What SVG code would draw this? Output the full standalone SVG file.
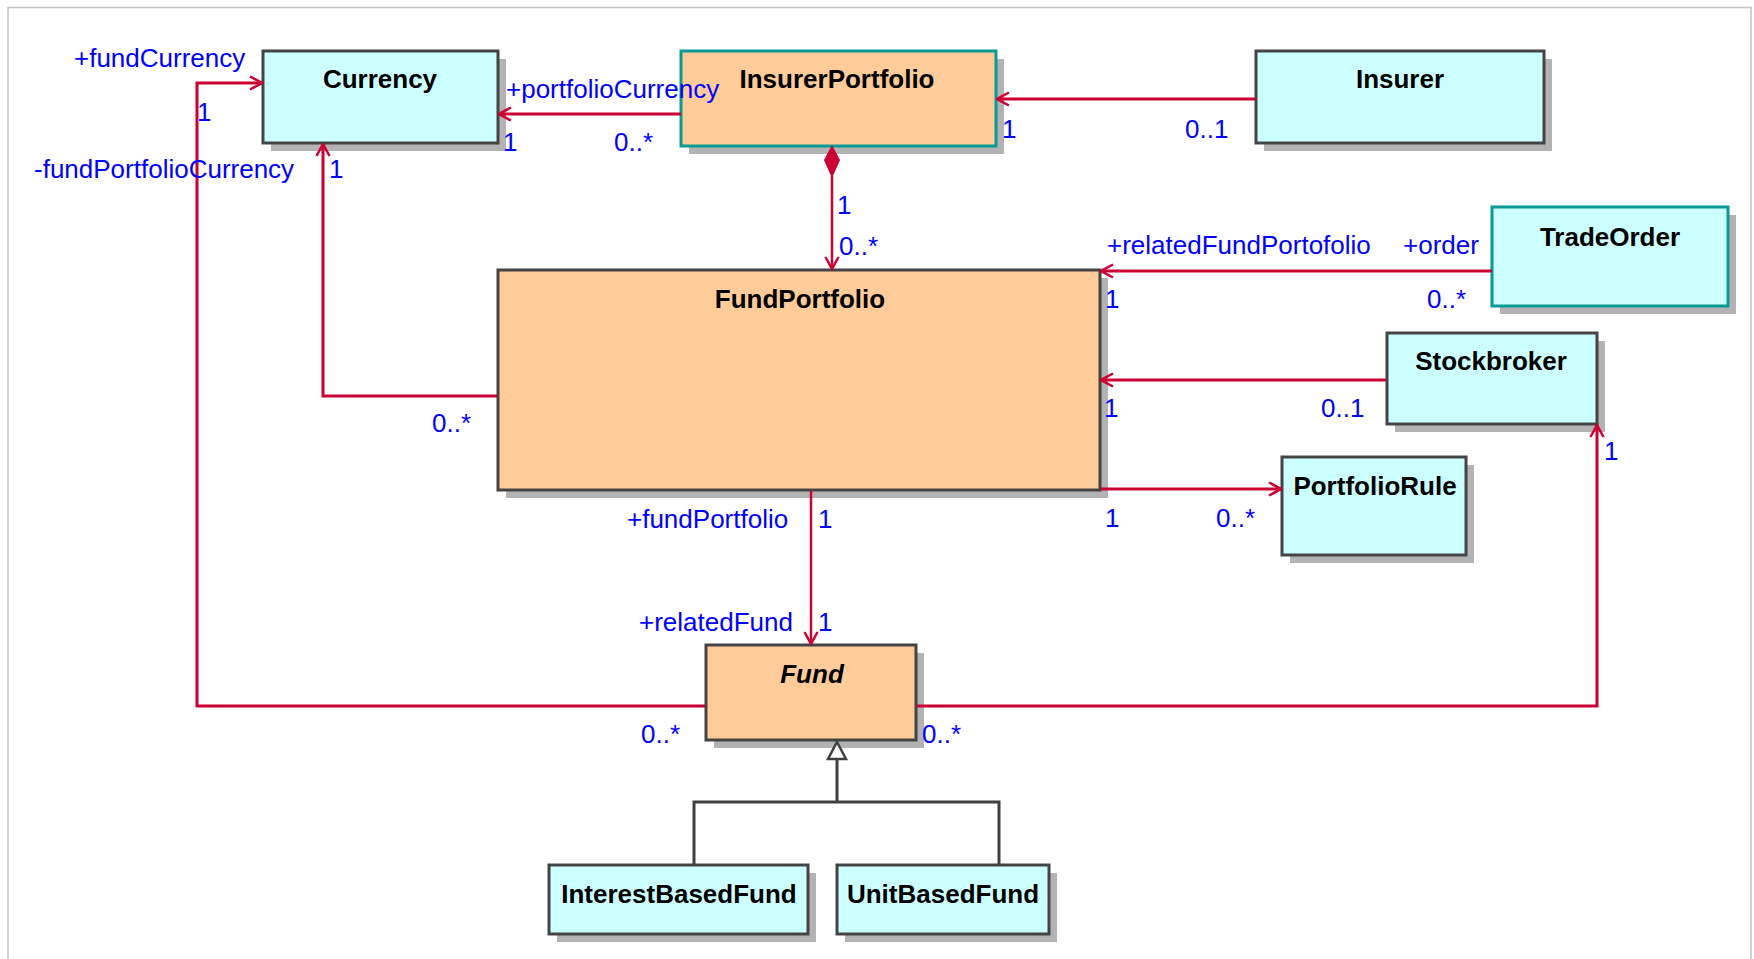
<svg xmlns="http://www.w3.org/2000/svg" width="1754" height="959" viewBox="0 0 1754 959">
<defs>
<style>
.frame{fill:#ffffff;stroke:#c4c4c4;stroke-width:1.5}
.sh{fill:#b3b3b3}
.cy{fill:#ccffff;stroke:#444444;stroke-width:3}
.cyt{fill:#ccffff;stroke:#0a9a96;stroke-width:3}
.pe{fill:#ffcc99;stroke:#444444;stroke-width:3}
.pet{fill:#ffcc99;stroke:#0a9a96;stroke-width:3}
.nm{font-family:"Liberation Sans",Arial,sans-serif;font-size:26px;font-weight:bold;fill:#000000;text-anchor:middle}
.it{font-style:italic}
.lb{font-family:"Liberation Sans",Arial,sans-serif;font-size:26px;fill:#0000ff}
.cn{fill:none;stroke:#cc0033;stroke-width:3}
.cnt{fill:none;stroke:#cc0033;stroke-width:2.5}
.gen{fill:none;stroke:#404040;stroke-width:3}
</style>
<marker id="open" viewBox="0 0 14 16" refX="13" refY="8" markerWidth="14" markerHeight="16" orient="auto" markerUnits="userSpaceOnUse">
<path d="M1,1.5 L13,8 L1,14.5" fill="none" stroke="#cc0033" stroke-width="2.5"/>
</marker>
</defs>
<rect class="frame" x="8" y="7.5" width="1743" height="970"/>

<g id="node-currency">
<rect class="sh" x="271" y="59" width="235" height="92"/>
<rect class="cy" x="263" y="51" width="235" height="92"/>
<text class="nm" x="380" y="88">Currency</text>
</g>
<g id="node-insurerportfolio">
<rect class="sh" x="689" y="59" width="315" height="95"/>
<rect class="pet" x="681" y="51" width="315" height="95"/>
<text class="nm" x="837" y="88">InsurerPortfolio</text>
</g>
<g id="node-insurer">
<rect class="sh" x="1264" y="59" width="288" height="92"/>
<rect class="cy" x="1256" y="51" width="288" height="92"/>
<text class="nm" x="1400" y="88">Insurer</text>
</g>
<g id="node-tradeorder">
<rect class="sh" x="1500" y="215" width="236" height="99"/>
<rect class="cyt" x="1492" y="207" width="236" height="99"/>
<text class="nm" x="1610" y="246">TradeOrder</text>
</g>
<g id="node-fundportfolio">
<rect class="sh" x="506" y="278" width="602" height="220"/>
<rect class="pe" x="498" y="270" width="602" height="220"/>
<text class="nm" x="800" y="308">FundPortfolio</text>
</g>
<g id="node-stockbroker">
<rect class="sh" x="1395" y="341" width="210" height="91"/>
<rect class="cy" x="1387" y="333" width="210" height="91"/>
<text class="nm" x="1491" y="370">Stockbroker</text>
</g>
<g id="node-portfoliorule">
<rect class="sh" x="1290" y="465" width="184" height="98"/>
<rect class="cy" x="1282" y="457" width="184" height="98"/>
<text class="nm" x="1375" y="495">PortfolioRule</text>
</g>
<g id="node-fund">
<rect class="sh" x="714" y="653" width="210" height="95"/>
<rect class="pe" x="706" y="645" width="210" height="95"/>
<text class="nm it" x="812" y="683">Fund</text>
</g>
<g id="node-interestbasedfund">
<rect class="sh" x="557" y="873" width="259" height="69"/>
<rect class="cy" x="549" y="865" width="259" height="69"/>
<text class="nm" x="679" y="903">InterestBasedFund</text>
</g>
<g id="node-unitbasedfund">
<rect class="sh" x="845" y="873" width="212" height="69"/>
<rect class="cy" x="837" y="865" width="212" height="69"/>
<text class="nm" x="943" y="903">UnitBasedFund</text>
</g>

<g id="connectors">
<path class="cn" d="M1256,99 L997,99" marker-end="url(#open)"/>
<path class="cn" d="M681,114 L499,114" marker-end="url(#open)"/>
<path class="cnt" d="M832,176 L832,269" marker-end="url(#open)"/>
<polygon points="832,146 839.5,160 832,177 824.5,160" fill="#cc0033" stroke="#cc0033" stroke-width="1"/>
<path class="cn" d="M1492,271 L1101,271" marker-end="url(#open)"/>
<path class="cn" d="M1386,380 L1101,380" marker-end="url(#open)"/>
<path class="cn" d="M1101,489 L1281,489" marker-end="url(#open)"/>
<path class="cnt" d="M811,491 L811,644" marker-end="url(#open)"/>
<path class="cn" d="M705,706 L197,706 L197,83 L262,83" marker-end="url(#open)"/>
<path class="cn" d="M497,396 L323,396 L323,144" marker-end="url(#open)"/>
<path class="cn" d="M917,706 L1597,706 L1597,425" marker-end="url(#open)"/>
<path class="gen" d="M837,759 L837,802 M694,865 L694,802 L999,802 L999,865"/>
<polygon points="837,742 846,759 828,759" fill="#ffffff" stroke="#404040" stroke-width="2.5"/>
</g>

<g id="labels">
<text class="lb" x="74" y="67">+fundCurrency</text>
<text class="lb" x="197" y="121">1</text>
<text class="lb" x="34" y="178">-fundPortfolioCurrency</text>
<text class="lb" x="329" y="178">1</text>
<text class="lb" x="506" y="98">+portfolioCurrency</text>
<text class="lb" x="503" y="151">1</text>
<text class="lb" x="614" y="151">0..*</text>
<text class="lb" x="1002" y="138">1</text>
<text class="lb" x="1185" y="138">0..1</text>
<text class="lb" x="837" y="214">1</text>
<text class="lb" x="839" y="255">0..*</text>
<text class="lb" x="1107" y="254">+relatedFundPortofolio</text>
<text class="lb" x="1403" y="254">+order</text>
<text class="lb" x="1105" y="308">1</text>
<text class="lb" x="1427" y="308">0..*</text>
<text class="lb" x="1104" y="417">1</text>
<text class="lb" x="1321" y="417">0..1</text>
<text class="lb" x="432" y="432">0..*</text>
<text class="lb" x="627" y="528">+fundPortfolio</text>
<text class="lb" x="818" y="528">1</text>
<text class="lb" x="1105" y="527">1</text>
<text class="lb" x="1216" y="527">0..*</text>
<text class="lb" x="639" y="631">+relatedFund</text>
<text class="lb" x="818" y="631">1</text>
<text class="lb" x="1604" y="460">1</text>
<text class="lb" x="641" y="743">0..*</text>
<text class="lb" x="922" y="743">0..*</text>
</g>
</svg>
